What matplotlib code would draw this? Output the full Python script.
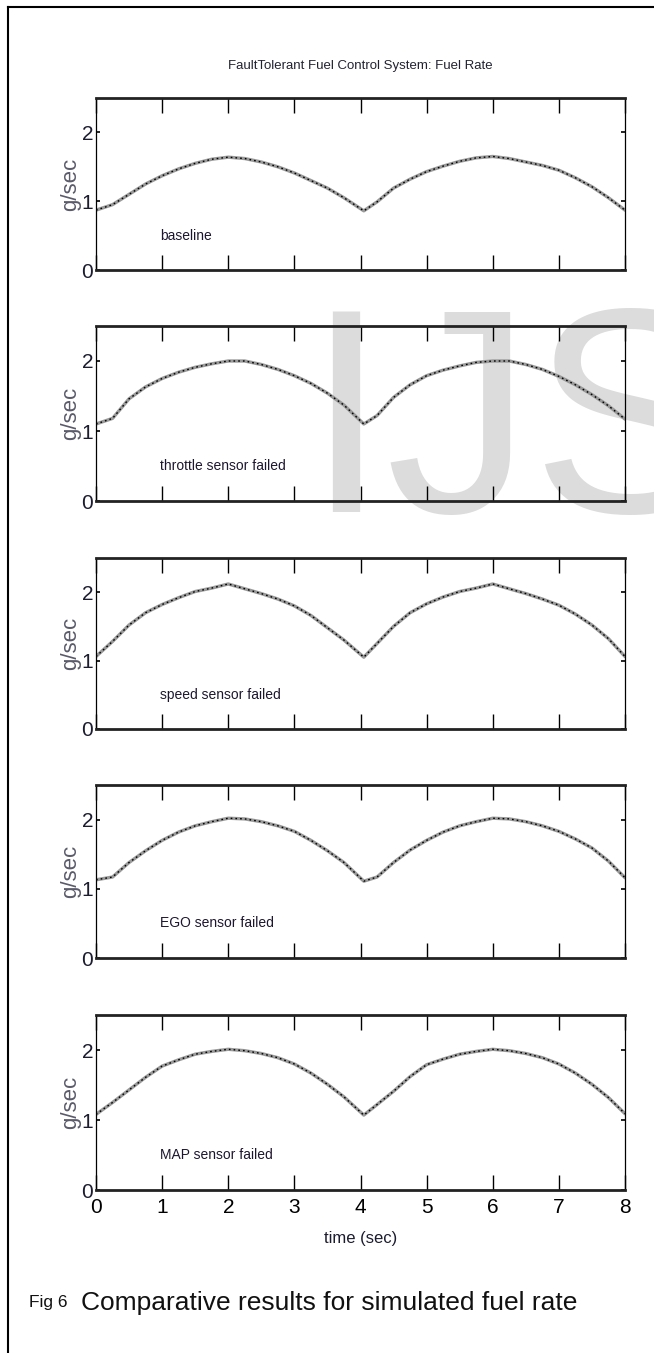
import matplotlib
matplotlib.use("Agg")
import matplotlib.pyplot as plt
from matplotlib.lines import Line2D

# time samples (s); the dip sits a bit after 4 s
time = [0, 0.25, 0.5, 0.75, 1.0, 1.25, 1.5, 1.75, 2.0, 2.25, 2.5, 2.75, 3.0, 3.25, 3.5, 3.75,
        4.05, 4.25, 4.5, 4.75, 5.0, 5.25, 5.5, 5.75, 6.0, 6.25, 6.5, 6.75, 7.0, 7.25, 7.5, 7.75, 8.0]

baseline = [0.87, 0.95, 1.10, 1.25, 1.37, 1.47, 1.55, 1.61, 1.64, 1.62, 1.57, 1.50, 1.41, 1.30, 1.19, 1.05,
            0.86, 0.99, 1.19, 1.32, 1.43, 1.51, 1.58, 1.63, 1.65, 1.62, 1.57, 1.52, 1.45, 1.34, 1.21, 1.05, 0.87]
throttle = [1.10, 1.18, 1.46, 1.63, 1.75, 1.84, 1.91, 1.96, 2.00, 2.00, 1.95, 1.88, 1.79, 1.68, 1.54, 1.37,
            1.10, 1.22, 1.48, 1.66, 1.79, 1.87, 1.93, 1.98, 2.00, 2.00, 1.95, 1.88, 1.78, 1.66, 1.52, 1.36, 1.17]
speed = [1.06, 1.28, 1.52, 1.70, 1.82, 1.92, 2.01, 2.06, 2.12, 2.05, 1.98, 1.90, 1.80, 1.66, 1.48, 1.30,
         1.05, 1.25, 1.50, 1.70, 1.83, 1.93, 2.01, 2.06, 2.12, 2.05, 1.98, 1.90, 1.81, 1.68, 1.52, 1.32, 1.06]
ego = [1.13, 1.17, 1.38, 1.55, 1.70, 1.82, 1.91, 1.97, 2.02, 2.01, 1.97, 1.91, 1.83, 1.70, 1.55, 1.38,
       1.11, 1.17, 1.38, 1.56, 1.70, 1.82, 1.91, 1.97, 2.02, 2.01, 1.97, 1.91, 1.83, 1.72, 1.59, 1.40, 1.16]
map_failed = [1.08, 1.25, 1.43, 1.61, 1.77, 1.86, 1.94, 1.98, 2.01, 1.99, 1.95, 1.89, 1.80, 1.67, 1.51, 1.33,
              1.07, 1.22, 1.41, 1.62, 1.79, 1.87, 1.94, 1.98, 2.01, 1.99, 1.95, 1.89, 1.80, 1.67, 1.51, 1.32, 1.09]

series = [baseline, throttle, speed, ego, map_failed]
labels = ["baseline", "throttle sensor failed", "speed sensor failed",
          "EGO sensor failed", "MAP sensor failed"]
xticks = [0, 1, 2, 3, 4, 5, 6, 7, 8]
yticks = [0, 1, 2]

plt.rcParams['font.family'] = ["Liberation Sans", "DejaVu Sans"]

W, H = 654, 1353
fig = plt.figure(figsize=(W / 100, H / 100), dpi=100)

# page frame (left + top only)
fig.add_artist(Line2D([8 / W, 8 / W], [0, 1 - 7 / H], transform=fig.transFigure, color='black', lw=1.5))
fig.add_artist(Line2D([8 / W, 1], [1 - 7 / H, 1 - 7 / H], transform=fig.transFigure, color='black', lw=1.5))

# watermark behind the panels
fig.text(305 / W, 1 - 512 / H, "IJS", fontsize=210, color='#dcdcdc',
         ha='left', va='baseline', zorder=-5)

panels = [(98, 270), (326, 501), (558, 729), (785, 958), (1015, 1190)]
left, right = 96, 625

for i, (top, bot) in enumerate(panels):
    ax = fig.add_axes([left / W, 1 - bot / H, (right - left) / W, (bot - top) / H])
    ax.set_facecolor('none')
    ax.plot(time, series[i], color='#9a9a9a', lw=2.4, solid_capstyle='round')
    ax.plot(time, series[i], color='black', lw=1.0, ls=(0, (1.2, 2.2)))
    ax.set_xlim(0, 8)
    ax.set_ylim(0, 2.5)
    ax.set_xticks(xticks)
    ax.set_yticks(yticks)
    ax.tick_params(axis='x', direction='in', length=11, width=1, top=True, bottom=True,
                   labelsize=15, pad=6, colors='black')
    ax.tick_params(axis='y', direction='in', length=3, width=1.2, left=True, right=True,
                   labelsize=15, pad=2)
    for lab in ax.get_yticklabels():
        lab.set_color('#1c1c30')
    if i < 4:
        ax.set_xticklabels([])
    for s in ['top', 'bottom']:
        ax.spines[s].set_linewidth(2.0)
        ax.spines[s].set_color('#222222')
    for s in ['left', 'right']:
        ax.spines[s].set_linewidth(0.9)
    ax.set_ylabel("g/sec", fontsize=16, color='#5a5a6a', labelpad=0)
    ax.text(0.97, 0.5, labels[i], fontsize=10, color='#1e1630', va='center', ha='left')
    if i == 0:
        ax.set_title("FaultTolerant Fuel Control System: Fuel Rate", fontsize=9.5,
                     color='#222233', pad=21)
    if i == 4:
        ax.set_xlabel("time (sec)", fontsize=12, color='#1c1c30', labelpad=10)

fig.text(29 / W, 1 - 1303 / H, "Fig 6", fontsize=12.5, va='center', ha='left', color='#111111')
fig.text(81 / W, 1 - 1303 / H, "Comparative results for simulated fuel rate", fontsize=19,
         va='center', ha='left', color='#111111')

fig.savefig("out.png", dpi=100)
